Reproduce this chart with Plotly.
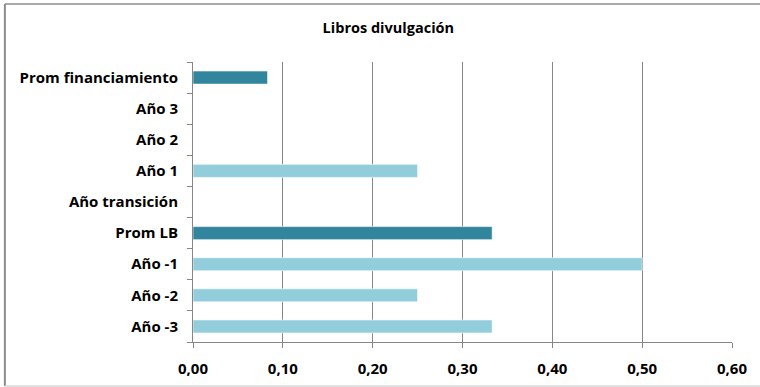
import plotly.graph_objects as go

categorias = ["Año -3", "Año -2", "Año -1", "Prom LB", "Año transición",
              "Año 1", "Año 2", "Año 3", "Prom financiamiento"]
valores = [0.333, 0.25, 0.5, 0.333, 0, 0.25, 0, 0, 0.083]
es_promedio = [False, False, False, True, False, False, False, False, True]

colores = ["#31859C" if p else "#92CDDC" for p in es_promedio]

fig = go.Figure(go.Bar(
    y=categorias, x=valores, orientation="h",
    marker=dict(color=colores, line=dict(color="white", width=0.6)),
    width=0.42,
))

# marco exterior del grafico (el borde derecho queda fuera de la imagen)
borde = [
    dict(x0=-0.349, x1=1.1, y0=1.207, y1=1.207, color="#8c8c8c", w=1.5),
    dict(x0=-0.349, x1=-0.349, y0=-0.157, y1=1.207, color="#8c8c8c", w=2),
    dict(x0=-0.349, x1=1.1, y0=-0.157, y1=-0.157, color="#d9d9d9", w=1.5),
]

fig.update_layout(
    width=760, height=387,
    margin=dict(l=193, r=28, t=62, b=45),
    paper_bgcolor="white", plot_bgcolor="white",
    font=dict(family="Open Sans", size=15, color="black"),
    showlegend=False,
    title=dict(text="<b>Libros divulgación</b>", x=0.511, xanchor="center",
               y=0.927, yanchor="middle", font=dict(size=14.5)),
    xaxis=dict(range=[0, 0.6], dtick=0.1, tickformat=".2f",
               showgrid=True, gridcolor="#868686", gridwidth=1,
               showline=True, linecolor="#868686", ticks="outside",
               ticklen=5, tickcolor="#868686", zeroline=False,
               ticklabelstandoff=8, tickfont=dict(size=15), automargin=False),
    yaxis=dict(categoryorder="array", categoryarray=categorias,
               showline=True, linecolor="#868686", ticks="outside",
               tickson="boundaries", ticklen=5, tickcolor="#868686",
               ticklabelstandoff=11, showgrid=False, tickfont=dict(size=15),
               automargin=False),
    separators=",.",
    shapes=[dict(type="line", xref="paper", yref="paper",
                 x0=b["x0"], x1=b["x1"], y0=b["y0"], y1=b["y1"],
                 line=dict(color=b["color"], width=b["w"]), layer="below")
            for b in borde],
)

fig.update_xaxes(tickprefix="<b>", ticksuffix="</b>")
fig.update_yaxes(tickprefix="<b>", ticksuffix="</b>")

# quitar el margen del body para que la figura quede en (0, 0)
fig.write_html("out.html", config={"displayModeBar": False},
               post_script="document.body.style.margin='0px';")
